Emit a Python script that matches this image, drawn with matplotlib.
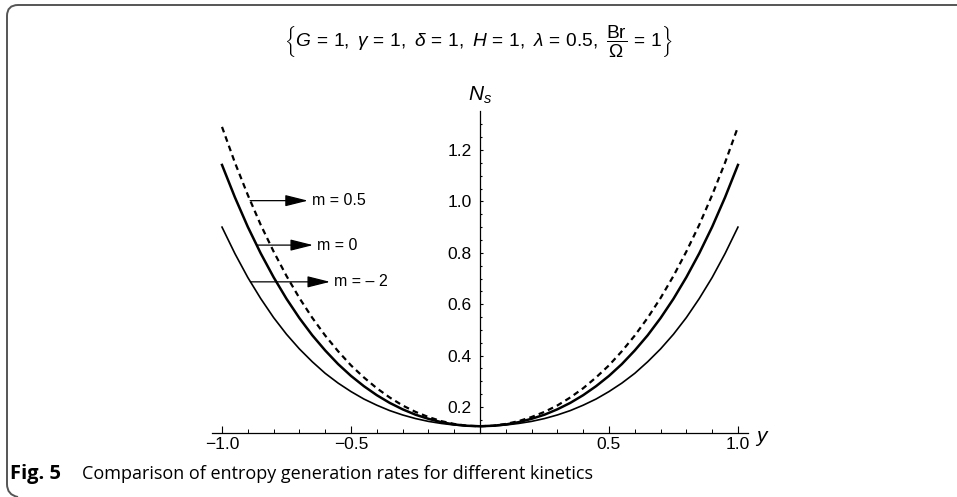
import numpy as np
import matplotlib
matplotlib.use("Agg")
import matplotlib.pyplot as plt
from matplotlib.path import Path
from matplotlib.patches import PathPatch
from matplotlib.ticker import MultipleLocator, FixedLocator

plt.rcParams["mathtext.fontset"] = "custom"
plt.rcParams["mathtext.rm"] = "Liberation Sans"
plt.rcParams["mathtext.it"] = "Liberation Sans:italic"
plt.rcParams["mathtext.bf"] = "Liberation Sans:bold"

# ── data (y >= 0 half, curves are symmetric) ──
y_half = [0.0, 0.05, 0.1, 0.15, 0.2, 0.25, 0.3, 0.35, 0.4, 0.45, 0.5,
          0.55, 0.6, 0.65, 0.7, 0.75, 0.8, 0.85, 0.9, 0.95, 1.0]
ns_m05 = [0.125, 0.127, 0.134, 0.145, 0.161, 0.181, 0.206, 0.237, 0.273, 0.315, 0.362,
          0.417, 0.478, 0.547, 0.624, 0.710, 0.805, 0.909, 1.025, 1.151, 1.290]
ns_m0 = [0.125, 0.127, 0.132, 0.141, 0.154, 0.170, 0.191, 0.216, 0.246, 0.281, 0.321,
         0.367, 0.420, 0.479, 0.546, 0.621, 0.705, 0.798, 0.901, 1.016, 1.142]
ns_m_2 = [0.125, 0.126, 0.130, 0.136, 0.144, 0.155, 0.169, 0.186, 0.207, 0.231, 0.260,
          0.293, 0.331, 0.376, 0.426, 0.483, 0.548, 0.622, 0.704, 0.797, 0.900]

labels = ["m = 0.5", "m = 0", "m = \u2013 2"]
arrow_start = [(-0.891, 1.003), (-0.866, 0.830), (-0.890, 0.687)]
arrow_tip_x = [-0.667, -0.647, -0.581]


def mirror(vals):
    return list(vals[:0:-1]) + list(vals)


y_full = [-v for v in y_half[:0:-1]] + list(y_half)

fig = plt.figure(figsize=(9.57, 4.97), dpi=100)
ax = fig.add_axes([0.2212, 0.1294, 0.5607, 0.6463])

ax.plot(y_full, mirror(ns_m05), color="black", lw=1.6, ls=(0, (2.6, 1.9)))
ax.plot(y_full, mirror(ns_m0), color="black", lw=1.8)
ax.plot(y_full, mirror(ns_m_2), color="black", lw=1.2)

ax.set_xlim(-1.04, 1.04)
ax.set_ylim(0.1, 1.35)

for s in ["top", "right"]:
    ax.spines[s].set_visible(False)
ax.spines["left"].set_position(("data", 0))
ax.spines["bottom"].set_position(("data", 0.1))
for s in ["left", "bottom"]:
    ax.spines[s].set_linewidth(0.9)

ax.xaxis.set_major_locator(FixedLocator([-1.0, -0.5, 0.5, 1.0]))
ax.xaxis.set_minor_locator(MultipleLocator(0.1))
ax.yaxis.set_major_locator(FixedLocator([0.2, 0.4, 0.6, 0.8, 1.0, 1.2]))
ax.yaxis.set_minor_locator(MultipleLocator(0.05))
ax.set_xticklabels(["\u22121.0", "\u22120.5", "0.5", "1.0"])
ax.tick_params(axis="x", which="major", direction="in", length=5, width=0.8,
               labelsize=12.5, pad=3)
ax.tick_params(axis="x", which="minor", direction="in", length=3, width=0.7)
ax.tick_params(axis="y", which="major", direction="out", length=0, labelsize=12.5, pad=6)
ax.tick_params(axis="y", which="minor", length=0)
for lab in ax.get_xticklabels() + ax.get_yticklabels():
    lab.set_fontfamily("Liberation Sans")

# y ticks pointing to the right of the axis (Mathematica style)
for v in np.arange(0.15, 1.34, 0.05):
    major = abs(round(v / 0.2) * 0.2 - v) < 1e-6
    ax.plot([0, 0.012 if major else 0.008], [v, v], color="black",
            lw=0.8, solid_capstyle="butt", clip_on=False)

ax.text(0.0, 1.37, r"$N_s$", ha="center", va="bottom", fontsize=15)
ax.text(1.065, 0.08, r"$y$", ha="left", va="center", fontsize=15)

for lab, (x0, y0), xt in zip(labels, arrow_start, arrow_tip_x):
    ax.annotate("", xy=(xt, y0), xytext=(x0, y0),
                arrowprops=dict(arrowstyle="-|>,head_length=1.4,head_width=0.35",
                                color="black", lw=0.9, shrinkA=0, shrinkB=0))
    ax.text(xt + 0.015, y0, lab, ha="left", va="center", fontsize=11.5,
            family="Liberation Sans")

fig.text(0.5, 0.918,
         r"$\left\{G\,=\,1,\ \gamma\,=\,1,\ \delta\,=\,1,\ H\,=\,1,\ \lambda\,=\,0.5,\ "
         r"\dfrac{\mathrm{Br}}{\Omega}\,=\,1\right\}$",
         ha="center", va="center", fontsize=13.8)

fig.text(10 / 957, 1 - 474 / 497, "Fig. 5", ha="left", va="center",
         fontsize=14.5, fontweight="bold", family="Open Sans")
fig.text(82 / 957, 1 - 474 / 497,
         "Comparison of entropy generation rates for different kinetics",
         ha="left", va="center", fontsize=13, family="Open Sans")

# rounded border on the top and left edges
W, H = 957.0, 497.0
pts = [(W, 5), (18, 5), (7, 5), (7, 16), (7, 484), (7, 495), (18, 497)]
codes = [Path.MOVETO, Path.LINETO, Path.CURVE3, Path.CURVE3, Path.LINETO,
         Path.CURVE3, Path.CURVE3]
pts = [(x / W, 1 - y / H) for x, y in pts]
fig.add_artist(PathPatch(Path(pts, codes), fill=False, edgecolor="#555555",
                         lw=1.4, transform=fig.transFigure))

fig.savefig("out.png", dpi=100)
